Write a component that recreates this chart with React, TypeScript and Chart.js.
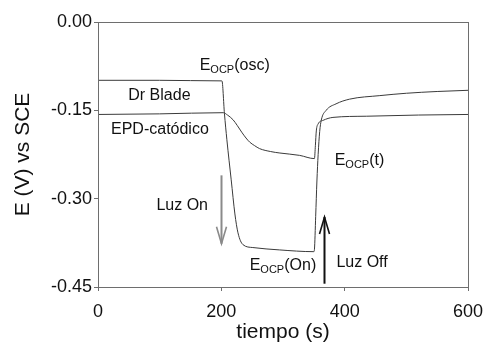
import React, { useEffect, useRef } from "react";
import { Chart, registerables } from "chart.js";

Chart.register(...registerables);

// ---- Data ----
const drBladeTime = [0, 100, 200, 201, 205, 209, 216, 222, 227, 235, 251, 294, 350, 351, 353, 355, 357, 359.5, 362, 370, 386, 408, 457, 500, 550, 600];
const drBladeValue = [-0.099, -0.099, -0.1, -0.1, -0.155, -0.2, -0.268, -0.326, -0.358, -0.378, -0.383, -0.387, -0.39, -0.386, -0.33, -0.27, -0.225, -0.186, -0.167, -0.15, -0.139, -0.131, -0.125, -0.121, -0.118, -0.116];

const epdTime = [0, 100, 203, 210, 219, 226, 233, 240, 246, 254, 262, 280, 295, 327, 351, 352.5, 354, 357, 365, 381, 435, 520, 600];
const epdValue = [-0.157, -0.156, -0.154, -0.158, -0.166, -0.176, -0.187, -0.197, -0.204, -0.21, -0.215, -0.22, -0.2225, -0.2265, -0.232, -0.21, -0.185, -0.173, -0.167, -0.162, -0.16, -0.158, -0.157];

const xTicks = [0, 200, 400, 600];
const yTicks = [0, -0.15, -0.3, -0.45];

const seriesNames = ["Dr Blade", "EPD-catódico"];

// annotation texts: [main, subscript, rest, t, v, align]
const annotationTexts: [string, string, string, number, number, string][] = [
  ["E", "OCP", "(osc)", 164.9, -0.0809, "left"],
  ["E", "OCP", "(t)", 383.8, -0.2434, "left"],
  ["E", "OCP", "(On)", 246, -0.4218, "left"],
  ["Dr Blade", "", "", 99.6, -0.133, "center"],
  ["EPD-catódico", "", "", 100.4, -0.1896, "center"],
  ["Luz On", "", "", 94.7, -0.3198, "left"],
  ["Luz Off", "", "", 386.6, -0.4162, "left"],
];

// arrows: [t, vFrom, vTo(tip), color]
const arrows: [number, number, number, string][] = [
  [200, -0.2604, -0.3764, "#8a8a8a"],
  [366.5, -0.4444, -0.3312, "#111111"],
];

const FONT = "'Liberation Sans', Arial, Helvetica, sans-serif";
const AXIS_COLOR = "#6e6e6e";
const LINE_COLOR = "#3a3a3a";

const toPoints = (ts: number[], vs: number[]) => ts.map((t, i) => ({ x: t, y: vs[i] }));

const framePlugin = {
  id: "frame",
  afterDraw(chart: any) {
    const { ctx, chartArea } = chart;
    ctx.save();
    ctx.strokeStyle = AXIS_COLOR;
    ctx.lineWidth = 1;
    ctx.strokeRect(
      Math.round(chartArea.left) + 0.5,
      Math.round(chartArea.top) + 0.5,
      Math.round(chartArea.right - chartArea.left),
      Math.round(chartArea.bottom - chartArea.top)
    );
    ctx.restore();
  },
};

const annotationPlugin = {
  id: "annots",
  afterDatasetsDraw(chart: any) {
    const { ctx } = chart;
    const xs = chart.scales.x;
    const ys = chart.scales.y;
    ctx.save();
    ctx.fillStyle = "#111111";
    ctx.textBaseline = "alphabetic";
    for (const [main, sub, rest, t, v, align] of annotationTexts) {
      const px = xs.getPixelForValue(t);
      const py = ys.getPixelForValue(v);
      ctx.font = `16px ${FONT}`;
      if (!sub) {
        ctx.textAlign = align as CanvasTextAlign;
        ctx.fillText(main, px, py);
        continue;
      }
      ctx.textAlign = "left";
      let x = px;
      ctx.fillText(main, x, py);
      x += ctx.measureText(main).width;
      ctx.font = `11px ${FONT}`;
      ctx.fillText(sub, x, py + 3);
      x += ctx.measureText(sub).width;
      ctx.font = `16px ${FONT}`;
      ctx.fillText(rest, x, py);
    }
    for (const [t, v0, v1, color] of arrows) {
      const x = Math.round(xs.getPixelForValue(t)) + 0.5;
      const y0 = ys.getPixelForValue(v0);
      const y1 = ys.getPixelForValue(v1);
      const dir = y1 > y0 ? 1 : -1;
      ctx.strokeStyle = color;
      ctx.lineWidth = 2;
      ctx.beginPath();
      ctx.moveTo(x, y0);
      ctx.lineTo(x, y1);
      ctx.stroke();
      ctx.lineWidth = 1.6;
      ctx.beginPath();
      ctx.moveTo(x - 5, y1 - dir * 17);
      ctx.lineTo(x, y1);
      ctx.lineTo(x + 5, y1 - dir * 17);
      ctx.stroke();
    }
    ctx.restore();
  },
};

export default function App() {
  const ref = useRef<HTMLCanvasElement | null>(null);
  useEffect(() => {
    if (!ref.current) return;
    const chart = new Chart(ref.current, {
      type: "line",
      data: {
        datasets: [
          {
            label: seriesNames[0],
            data: toPoints(drBladeTime, drBladeValue),
            borderColor: LINE_COLOR,
            borderWidth: 1,
            pointRadius: 0,
            cubicInterpolationMode: "monotone",
            fill: false,
          },
          {
            label: seriesNames[1],
            data: toPoints(epdTime, epdValue),
            borderColor: LINE_COLOR,
            borderWidth: 1,
            pointRadius: 0,
            cubicInterpolationMode: "monotone",
            fill: false,
          },
        ],
      },
      options: {
        animation: false,
        responsive: false,
        devicePixelRatio: 1,
        layout: { padding: { left: 0, right: 16, top: 22, bottom: 0 } },
        plugins: { legend: { display: false }, tooltip: { enabled: false } },
        scales: {
          x: {
            type: "linear",
            min: 0,
            max: 600,
            afterFit: (s: any) => {
              s.height = 65;
              s.paddingLeft = 0;
              s.paddingRight = 0;
            },
            afterBuildTicks: (s: any) => {
              s.ticks = xTicks.map((value) => ({ value }));
            },
            ticks: {
              color: "#111111",
              font: { family: FONT, size: 18 },
              padding: 10,
              maxRotation: 0,
              autoSkip: false,
            },
            grid: {
              display: true,
              drawOnChartArea: false,
              drawTicks: true,
              tickLength: 4,
              color: AXIS_COLOR,
            },
            border: { display: true, color: AXIS_COLOR },
            title: {
              display: true,
              text: "tiempo (s)",
              color: "#111111",
              font: { family: FONT, size: 21 },
              padding: { top: 0, bottom: 7 },
            },
          },
          y: {
            type: "linear",
            min: -0.45,
            max: 0,
            afterFit: (s: any) => {
              s.width = 98;
              s.paddingTop = 0;
              s.paddingBottom = 0;
            },
            afterBuildTicks: (s: any) => {
              s.ticks = yTicks.map((value) => ({ value }));
            },
            ticks: {
              color: "#111111",
              font: { family: FONT, size: 18 },
              padding: 2,
              autoSkip: false,
              callback: (v: any) => Number(v).toFixed(2),
            },
            grid: {
              display: true,
              drawOnChartArea: false,
              drawTicks: true,
              tickLength: 4,
              color: AXIS_COLOR,
            },
            border: { display: true, color: AXIS_COLOR },
            title: {
              display: true,
              text: "E (V) vs SCE",
              color: "#111111",
              font: { family: FONT, size: 21 },
              padding: { top: 11, bottom: 0 },
            },
          },
        },
      } as any,
      plugins: [framePlugin, annotationPlugin],
    });
    return () => chart.destroy();
  }, []);

  return (
    <div style={{ position: "fixed", left: 0, top: 0, width: 484, height: 352, background: "#ffffff" }}>
      <canvas ref={ref} width={484} height={352} style={{ display: "block" }} />
    </div>
  );
}
